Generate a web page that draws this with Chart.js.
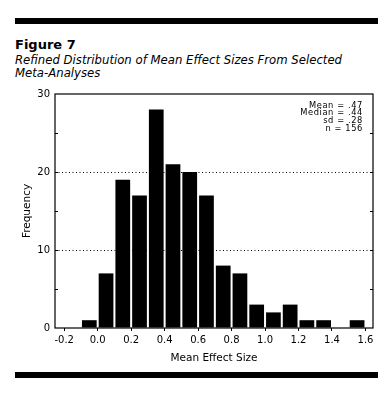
<!DOCTYPE html>
<html><head><meta charset="utf-8">
<script src="https://cdn.jsdelivr.net/npm/chart.js@4.4.0/dist/chart.umd.min.js"></script>
<style>
html,body{margin:0;padding:0;background:#fff;}
#wrap{position:relative;width:389px;height:398px;overflow:hidden;background:#fff;}
canvas{position:absolute;left:0;top:0;}
.rule{position:absolute;left:15px;width:363px;height:6px;background:#000;}
#fig{position:absolute;left:15px;top:38px;font:bold 13px/13px "DejaVu Sans";color:#000;white-space:nowrap;}
#sub{position:absolute;left:15px;top:54px;font:italic 11.7px/12.5px "DejaVu Sans";color:#000;white-space:nowrap;}
</style></head>
<body>
<div id="wrap">
  <div class="rule" style="top:18px"></div>
  <div id="fig">Figure 7</div>
  <div id="sub">Refined Distribution of Mean Effect Sizes From Selected<br>Meta-Analyses</div>
  <canvas id="c" width="389" height="398"></canvas>
  <div class="rule" style="top:372px"></div>
</div>
<script>
const binCenters = [-0.05,0.05,0.15,0.25,0.35,0.45,0.55,0.65,0.75,0.85,0.95,1.05,1.15,1.25,1.35,1.45,1.55];
const frequencies = [1,7,19,17,28,21,20,17,8,7,3,2,3,1,1,0,1];
const xTickValues = [-0.2,0.0,0.2,0.4,0.6,0.8,1.0,1.2,1.4,1.6];
const yTickValues = [0,5,10,15,20,25,30];
const yLabelValues = [0,10,20,30];
const yGridValues = [10,20];
const statLines = ['Mean = .47','Median = .44','sd = .28','n = 156'];
const xTitle = 'Mean Effect Size';
const yTitle = 'Frequency';

const framePlugin = {
  id: 'frame',
  afterDraw(chart) {
    const {ctx, chartArea: a, scales: {y}} = chart;
    ctx.save();
    ctx.strokeStyle = '#000';
    ctx.lineWidth = 1.2;
    ctx.strokeRect(a.left, a.top, a.right - a.left, a.bottom - a.top);
    ctx.lineWidth = 1;
    yTickValues.slice(1, -1).forEach(v => {
      const py = Math.round(y.getPixelForValue(v)) + 0.5;
      ctx.beginPath();
      ctx.moveTo(a.left, py); ctx.lineTo(a.left + 3, py);
      ctx.moveTo(a.right, py); ctx.lineTo(a.right - 3, py);
      ctx.stroke();
    });
    ctx.fillStyle = '#000';
    ctx.font = '8.3px "DejaVu Sans"';
    try { ctx.letterSpacing = '0.6px'; } catch (e) {}
    ctx.textAlign = 'right';
    ctx.textBaseline = 'middle';
    statLines.forEach((s, i) => ctx.fillText(s, a.right - 10, a.top + 11.5 + i * 7.8));
    ctx.restore();
  }
};

new Chart(document.getElementById('c'), {
  type: 'bar',
  data: {
    datasets: [{
      data: binCenters.map((x, i) => ({x: x, y: frequencies[i]})),
      backgroundColor: '#000',
      borderWidth: 0,
      barPercentage: 0.88,
      categoryPercentage: 1.0
    }]
  },
  options: {
    responsive: false,
    animation: false,
    devicePixelRatio: 1,
    layout: {padding: {top: 94, right: 16, left: 0, bottom: 0}},
    plugins: {legend: {display: false}, tooltip: {enabled: false}},
    scales: {
      x: {
        type: 'linear',
        min: -0.255,
        max: 1.645,
        offset: false,
        afterFit: s => { s.height = 70; },
        afterBuildTicks: s => { s.ticks = xTickValues.map(v => ({value: v})); },
        grid: {offset: false, drawOnChartArea: false, drawTicks: true, tickLength: 3, color: '#000', tickColor: '#000'},
        border: {display: false},
        ticks: {
          padding: 3,
          color: '#000',
          font: {family: 'DejaVu Sans', size: 10},
          maxRotation: 0,
          autoSkip: false,
          callback: v => Number(v).toFixed(1)
        },
        title: {display: true, text: xTitle, color: '#000', font: {family: 'DejaVu Sans', size: 10.5}, padding: {top: 0, bottom: 33.7}}
      },
      y: {
        min: 0,
        max: 30,
        afterFit: s => { s.width = 55; },
        afterBuildTicks: s => { s.ticks = yTickValues.map(v => ({value: v})); },
        grid: {
          drawTicks: false,
          color: c => yGridValues.includes(c.tick && c.tick.value) ? '#000' : 'rgba(0,0,0,0)',
          lineWidth: 1
        },
        border: {display: false, dash: [1, 2.5]},
        ticks: {
          padding: 5,
          color: '#000',
          font: {family: 'DejaVu Sans', size: 10},
          autoSkip: false,
          callback: v => yLabelValues.includes(v) ? String(v) : ''
        },
        title: {display: true, text: yTitle, color: '#000', font: {family: 'DejaVu Sans', size: 10.5}, padding: {top: 20.7, bottom: 0}}
      }
    }
  },
  plugins: [framePlugin]
});
</script>
</body></html>
